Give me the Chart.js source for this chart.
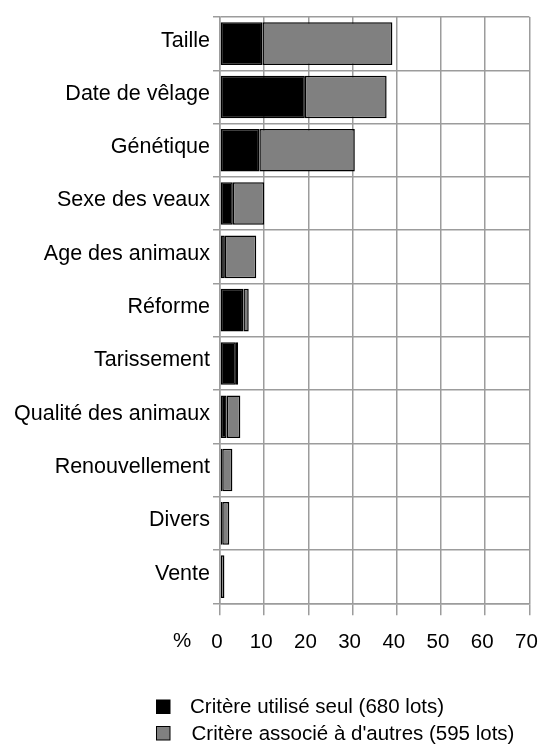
<!DOCTYPE html>
<html><head><meta charset="utf-8">
<script src="https://cdn.jsdelivr.net/npm/chart.js@4"></script>
<style>html,body{margin:0;padding:0;background:#fff}canvas{display:block}</style>
</head><body>
<canvas id="c" width="540" height="745"></canvas>
<script>
const categories = ["Taille","Date de vêlage","Génétique","Sexe des veaux","Age des animaux","Réforme","Tarissement","Qualité des animaux","Renouvellement","Divers","Vente"];
const seul = [9.6,19.2,8.9,2.9,1.1,5.3,3.6,1.5,0.5,0.5,0];
const associe = [29.4,18.5,21.6,7.1,7.1,1.2,0.5,3.1,2.3,1.6,1.0];
const xTicks = [0,10,20,30,40,50,60,70];
const seriesLabels = ["Critère utilisé seul (680 lots)","Critère associé à d'autres (595 lots)"];
const axisUnit = "%";

const FONT = "'Liberation Sans', Arial, sans-serif";
const GRID = '#9c9c9c';

const extras = {
  id:'extras',
  afterDraw(chart){
    const ctx = chart.ctx;
    ctx.save();
    ctx.font = '20.5px ' + FONT;
    ctx.fillStyle = '#000';
    ctx.textBaseline = 'middle';
    ctx.textAlign = 'center';
    ctx.fillText(axisUnit, 182, 641);
    ctx.textAlign = 'left';
    chart.data.datasets.forEach((ds,i)=>{
      const y = 700 + i*26.5;
      ctx.fillStyle = ds.backgroundColor;
      ctx.fillRect(156.5, y, 13.5, 13.5);
      ctx.strokeStyle = '#000';
      ctx.lineWidth = 1;
      ctx.strokeRect(156.5, y, 13.5, 13.5);
      ctx.fillStyle = '#000';
      ctx.fillText(ds.label, 190 + i*1.5, y + 7.5);
    });
    ctx.restore();
  }
};

const chart = new Chart(document.getElementById('c'), {
  type:'bar',
  data:{
    labels:categories,
    datasets:[
      {label:seriesLabels[0], data:seul, backgroundColor:'#000000', borderColor:'#000', borderWidth:1.5, borderSkipped:false},
      {label:seriesLabels[1], data:associe, backgroundColor:'#808080', borderColor:'#000', borderWidth:1.5, borderSkipped:false}
    ]
  },
  options:{
    indexAxis:'y',
    responsive:false,
    animation:false,
    devicePixelRatio:1,
    layout:{padding:{top:17,right:10.6,left:0,bottom:0}},
    plugins:{legend:{display:false}, tooltip:{enabled:false}},
    datasets:{bar:{barPercentage:0.8, categoryPercentage:1}},
    scales:{
      x:{
        stacked:true, min:0, max:70,
        afterBuildTicks:s=>{ s.ticks = xTicks.map(v=>({value:v})); },
        ticks:{font:{family:FONT, size:20.5}, color:'#000', padding:15, labelOffset:-3, maxRotation:0, autoSkip:false},
        grid:{color:GRID, lineWidth:1.5, tickLength:12, tickColor:GRID},
        border:{color:GRID, width:1.5},
        afterFit:s=>{ s.height = 141.7; s.paddingLeft = 0; s.paddingRight = 0; }
      },
      y:{
        stacked:true,
        ticks:{font:{family:FONT, size:21.5}, color:'#000', padding:3, labelOffset:-3, autoSkip:false},
        grid:{color:GRID, lineWidth:1.5, tickLength:7, offset:true, tickColor:GRID},
        border:{color:GRID, width:1.5},
        afterFit:s=>{ s.width = 220; s.paddingTop = 0; s.paddingBottom = 0; }
      }
    }
  },
  plugins:[extras]
});
</script>
</body></html>
